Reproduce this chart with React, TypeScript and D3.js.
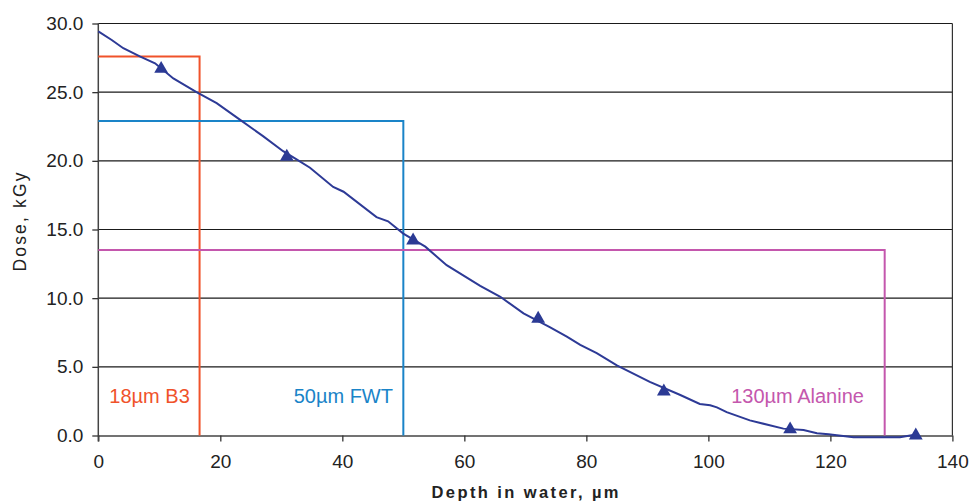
import React, { useEffect, useRef } from 'react';
import * as d3 from 'd3';

// depth-dose curve
const curveDepth = [0, 2.2, 4.1, 6.8, 9.3, 12.3, 16.1, 19.4, 23.2, 27.0, 30.3, 32.5, 34.7, 38.5, 40.2, 45.6, 47.5, 50.0, 53.6, 57.1, 62.6, 65.9, 69.7, 74.0, 76.8, 79.0, 81.7, 85.0, 90.4, 95.4, 98.6, 100.3, 101.4, 103.0, 106.8, 112.3, 115.6, 117.8, 119.7, 123.8, 131.4, 133.8];
const curveDose = [29.43, 28.8, 28.2, 27.6, 27.1, 26.0, 25.0, 24.2, 23.0, 21.8, 20.7, 20.1, 19.5, 18.1, 17.75, 15.9, 15.6, 14.7, 13.75, 12.4, 10.9, 10.1, 8.9, 7.9, 7.2, 6.6, 6.0, 5.1, 3.9, 2.95, 2.3, 2.2, 2.05, 1.7, 1.1, 0.5, 0.4, 0.16, 0.09, -0.13, -0.13, 0.05];

// measured points (triangles)
const markDepth = [10.3, 30.9, 51.6, 72.1, 92.7, 113.4, 134.0];
const markDose = [26.7, 20.3, 14.2, 8.5, 3.2, 0.45, 0.0];

// dosimeter boxes
const boxLabels = ['18\u00b5m B3', '50\u00b5m FWT', '130\u00b5m Alanine'];
const boxDepth = [16.6, 50.0, 128.9];
const boxDose = [27.6, 22.9, 13.5];
const boxColors = ['#f0522a', '#1a84c8', '#c457ad'];
const labelDepth = [15.0, 48.3, 125.5];
const labelDose = 2.35;

const xTicks = [0, 20, 40, 60, 80, 100, 120, 140];
const yTicks = [0, 5, 10, 15, 20, 25, 30];

const W = 970;
const H = 501;

export default function App() {
  const svgRef = useRef<SVGSVGElement>(null);

  useEffect(() => {
    const svg = d3.select(svgRef.current);
    svg.selectAll('*').remove();

    const x = d3.scaleLinear().domain([0, 140]).range([98.3, 952.4]);
    const y = d3.scaleLinear().domain([0, 30]).range([435.5, 23.5]);
    const font = '"Liberation Sans", Arial, sans-serif';

    // gridlines
    svg.append('g')
      .selectAll('line')
      .data(yTicks.filter(t => t > 0))
      .enter().append('line')
      .attr('x1', x(0)).attr('x2', x(140))
      .attr('y1', d => y(d)).attr('y2', d => y(d))
      .attr('stroke', '#1a1a1a').attr('stroke-width', 1.2);

    // right border
    svg.append('line')
      .attr('x1', x(140)).attr('x2', x(140))
      .attr('y1', y(30)).attr('y2', y(0))
      .attr('stroke', '#333').attr('stroke-width', 1.2);

    // axes
    const xAxis = svg.append('g')
      .attr('transform', `translate(0,${y(0)})`)
      .call(d3.axisBottom(x).tickValues(xTicks).tickSize(6).tickPadding(13).tickSizeOuter(0));
    const yAxis = svg.append('g')
      .attr('transform', `translate(${x(0)},0)`)
      .call(d3.axisLeft(y).tickValues(yTicks).tickFormat(d3.format('.1f')).tickSize(6).tickPadding(9).tickSizeOuter(0));

    [xAxis, yAxis].forEach(a => {
      a.select('.domain').attr('stroke', '#444').attr('stroke-width', 1.5);
      a.selectAll('.tick line').attr('stroke', '#333').attr('stroke-width', 1.3);
      a.selectAll('.tick text')
        .attr('fill', '#222')
        .style('font-family', font)
        .style('font-size', '19px');
    });
    yAxis.select('.domain').attr('d', `M0,${y(30)}V${y(0) + 6}`);

    // dosimeter boxes
    boxDepth.forEach((d, i) => {
      svg.append('path')
        .attr('d', `M${x(0)},${y(boxDose[i])}H${x(d)}V${y(0)}`)
        .attr('fill', 'none')
        .attr('stroke', boxColors[i])
        .attr('stroke-width', 2);
      svg.append('text')
        .attr('x', x(labelDepth[i]))
        .attr('y', y(labelDose))
        .attr('text-anchor', 'end')
        .attr('fill', boxColors[i])
        .style('font-family', font)
        .style('font-size', '20px')
        .text(boxLabels[i]);
    });

    // curve
    const line = d3.line<number>()
      .x((d, i) => x(curveDepth[i]))
      .y(d => y(d));
    svg.append('path')
      .datum(curveDose)
      .attr('d', line)
      .attr('fill', 'none')
      .attr('stroke', '#2d3a96')
      .attr('stroke-width', 2);

    // markers
    svg.append('g')
      .selectAll('path')
      .data(markDose)
      .enter().append('path')
      .attr('transform', (d, i) => `translate(${x(markDepth[i])},${y(d)})`)
      .attr('d', d3.symbol(d3.symbolTriangle, 82)())
      .attr('fill', '#2b3a94');

    // axis titles
    svg.append('text')
      .attr('x', 525)
      .attr('y', 498)
      .attr('text-anchor', 'middle')
      .attr('textLength', 187)
      .attr('lengthAdjust', 'spacing')
      .attr('fill', '#222')
      .style('font-family', font)
      .style('font-size', '16.5px')
      .style('font-weight', 'bold')
      .text('Depth in water, \u00b5m');

    svg.append('text')
      .attr('transform', `translate(26,222) rotate(-90)`)
      .attr('text-anchor', 'middle')
      .attr('textLength', 99)
      .attr('lengthAdjust', 'spacing')
      .attr('fill', '#222')
      .style('font-family', font)
      .style('font-size', '17.5px')
      .text('Dose, kGy');
  }, []);

  return (
    <div style={{ position: 'absolute', left: 0, top: 0 }}>
      <svg ref={svgRef} width={W} height={H} style={{ display: 'block', background: '#fff' }} />
    </div>
  );
}
